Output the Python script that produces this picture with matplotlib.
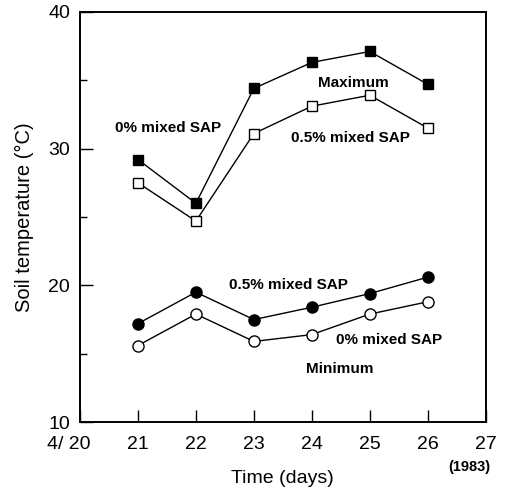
import matplotlib
matplotlib.use("Agg")
from matplotlib import pyplot as plt
from matplotlib.ticker import MultipleLocator
from matplotlib.transforms import ScaledTranslation

plt.rcParams['font.family'] = ['Liberation Sans', 'DejaVu Sans']

days = [21, 22, 23, 24, 25, 26]
max_0 = [29.2, 26.0, 34.4, 36.3, 37.1, 34.7]
max_05 = [27.5, 24.7, 31.1, 33.1, 33.9, 31.5]
min_05 = [17.2, 19.5, 17.5, 18.4, 19.4, 20.6]
min_0 = [15.6, 17.9, 15.9, 16.4, 17.9, 18.8]

xticks = [20, 21, 22, 23, 24, 25, 26, 27]
xticklabels = ['4/ 20', '21', '22', '23', '24', '25', '26', '27']

fig = plt.figure(figsize=(5.06, 4.92), dpi=100)
ax = fig.add_axes([0.158, 0.142, 0.802, 0.834])

ax.plot(days, max_0, color='black', lw=1, marker='s', markersize=7,
        markerfacecolor='black', markeredgecolor='black')
ax.plot(days, max_05, color='black', lw=1, marker='s', markersize=7,
        markerfacecolor='white', markeredgecolor='black')
ax.plot(days, min_05, color='black', lw=1, marker='o', markersize=8,
        markerfacecolor='black', markeredgecolor='black')
ax.plot(days, min_0, color='black', lw=1, marker='o', markersize=8,
        markerfacecolor='white', markeredgecolor='black')

ax.set_xlim(20, 27)
ax.set_ylim(10, 40)
ax.set_xticks(xticks)
ax.set_xticklabels(xticklabels)
ax.set_yticks([10, 20, 30, 40])
ax.yaxis.set_minor_locator(MultipleLocator(5))
ax.tick_params(direction='in', length=9, width=1, labelsize=14)
ax.tick_params(which='minor', direction='in', length=5, width=1)
ax.tick_params(axis='x', pad=10)
ax.tick_params(axis='y', pad=7)
for s in ax.spines.values():
    s.set_linewidth(1.4)

# "20" sits under the tick, "4/" hangs out to the left
first = ax.get_xticklabels()[0]
first.set_horizontalalignment('right')
first.set_transform(first.get_transform() +
                    ScaledTranslation(0.11, 0, fig.dpi_scale_trans))

ax.set_xlabel('Time (days)', fontsize=14, labelpad=12)
ax.set_ylabel('Soil temperature (°C)', fontsize=14.5, labelpad=10)

lab = dict(fontsize=11, fontweight='bold', ha='center', va='center')
ax.text(24.71, 34.8, 'Maximum', **lab)
ax.text(21.52, 31.5, '0% mixed SAP', **lab)
ax.text(24.66, 30.8, '0.5% mixed SAP', **lab)
ax.text(23.6, 20.0, '0.5% mixed SAP', **lab)
ax.text(25.33, 16.0, '0% mixed SAP', **lab)
ax.text(24.48, 13.9, 'Minimum', **lab)
ax.text(26.71, 6.7, '(1983)', fontsize=10.5, fontweight='bold', ha='center',
        va='center', clip_on=False)

plt.savefig('out.png', dpi=100)
